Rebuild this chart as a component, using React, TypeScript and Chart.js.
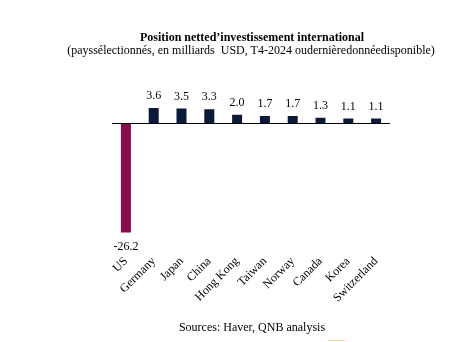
import React, { useEffect, useRef } from "react";
import { Chart, registerables } from "chart.js";

Chart.register(...registerables);

const categories = ["US", "Germany", "Japan", "China", "Hong Kong", "Taiwan", "Norway", "Canada", "Korea", "Switzerland"];
const values = [-26.2, 3.6, 3.5, 3.3, 2.0, 1.7, 1.7, 1.3, 1.1, 1.1];
const barColors = ["#8a0a4e", "#0c1a3a", "#0c1a3a", "#0c1a3a", "#0c1a3a", "#0c1a3a", "#0c1a3a", "#0c1a3a", "#0c1a3a", "#0c1a3a"];
const titleText = "Position netted\u2019investissement international";
const subtitleText = "(payss\u00e9lectionn\u00e9s, en milliards  USD, T4-2024 ouderni\u00e8redonn\u00e9edisponible)";
const sourceText = "Sources: Haver, QNB analysis";

const FONT = "'Liberation Serif', 'Times New Roman', serif";

export default function App() {
  const ref = useRef<HTMLCanvasElement | null>(null);
  useEffect(() => {
    if (!ref.current) return;
    const zeroLine = {
      id: "zeroLine",
      afterDatasetsDraw(chart: any) {
        const y = chart.scales.y.getPixelForValue(0);
        const ctx = chart.ctx;
        ctx.save();
        ctx.strokeStyle = "#000";
        ctx.lineWidth = 1;
        ctx.beginPath();
        ctx.moveTo(chart.chartArea.left, Math.round(y) + 0.5);
        ctx.lineTo(chart.chartArea.right, Math.round(y) + 0.5);
        ctx.stroke();
        ctx.restore();
      },
    };
    const valueLabels = {
      id: "valueLabels",
      afterDatasetsDraw(chart: any) {
        const ctx = chart.ctx;
        const meta = chart.getDatasetMeta(0);
        ctx.save();
        ctx.font = `12px ${FONT}`;
        ctx.fillStyle = "#000";
        ctx.textAlign = "center";
        meta.data.forEach((bar: any, i: number) => {
          const v = values[i];
          const txt = v.toFixed(1);
          if (v >= 0) {
            ctx.textBaseline = "bottom";
            ctx.fillText(txt, bar.x, bar.y - 6);
          } else {
            ctx.textBaseline = "top";
            ctx.fillText(txt, bar.x, bar.y + 8);
          }
        });
        ctx.restore();
      },
    };
    const chart = new Chart(ref.current, {
      type: "bar",
      data: {
        labels: categories,
        datasets: [
          {
            data: values,
            backgroundColor: barColors,
            barPercentage: 0.36,
            categoryPercentage: 1,
          },
        ],
      },
      options: {
        animation: false,
        responsive: false,
        layout: { padding: { left: 112, right: 84, top: 98, bottom: 35 } },
        plugins: { legend: { display: false }, tooltip: { enabled: false } },
        scales: {
          x: {
            grid: { display: false },
            border: { display: false },
            ticks: {
              color: "#000",
              font: { family: FONT, size: 12 },
              maxRotation: 45,
              minRotation: 45,
              padding: 2,
            },
          },
          y: {
            display: false,
            min: -29,
            max: 6,
          },
        },
      },
      plugins: [zeroLine, valueLabels],
    });
    return () => chart.destroy();
  }, []);
  return (
    <div style={{ position: "fixed", left: 0, top: 0, width: 474, height: 342, background: "#fff", fontFamily: FONT }}>
      <canvas ref={ref} width={474} height={342} style={{ position: "absolute", left: 0, top: 0 }} />
      <div style={{ position: "absolute", left: 0, width: 504, top: 30, textAlign: "center", fontWeight: "bold", fontSize: 12 }}>{titleText}</div>
      <div style={{ position: "absolute", left: 0, width: 502, top: 43, textAlign: "center", fontSize: 12, whiteSpace: "pre" }}>{subtitleText}</div>
      <div style={{ position: "absolute", left: 0, width: 504, top: 320, textAlign: "center", fontSize: 12 }}>{sourceText}</div>
      <div style={{ position: "absolute", left: 328, top: 340, width: 17, height: 1, background: "#f3d79e" }} />
    </div>
  );
}
